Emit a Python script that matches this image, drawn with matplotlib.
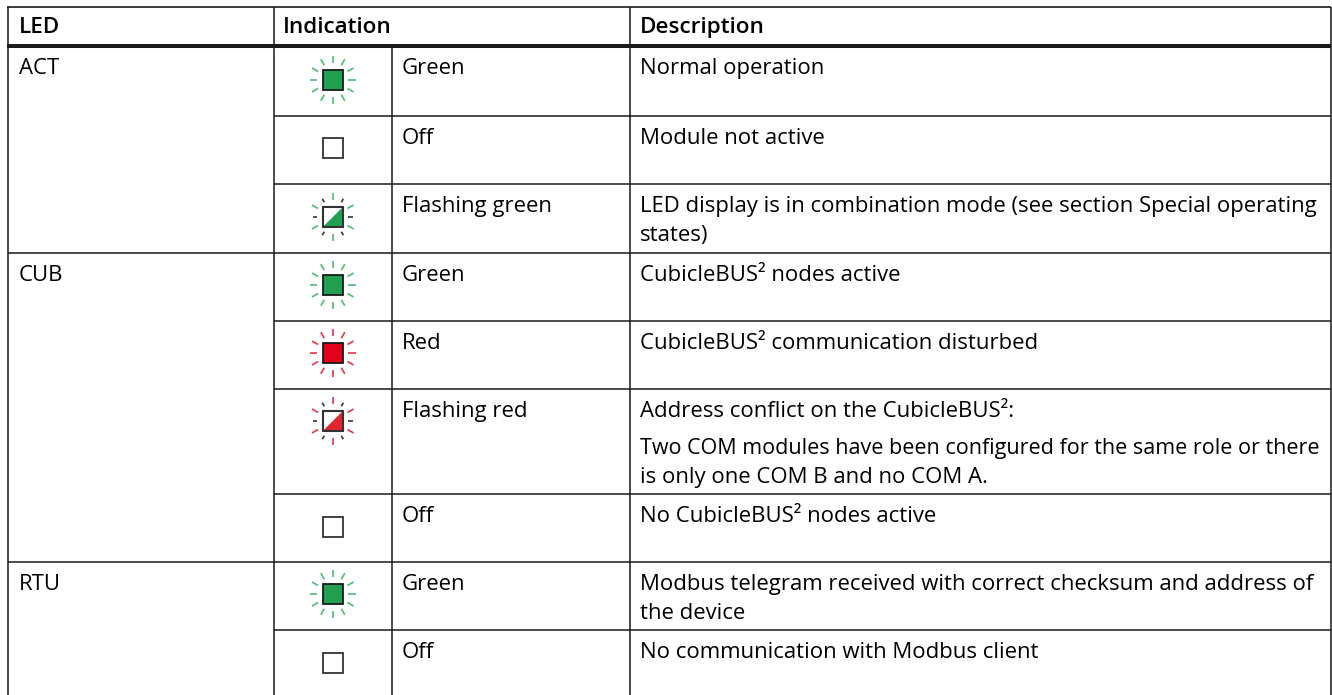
import matplotlib
matplotlib.use("Agg")
from matplotlib import pyplot as plt
from matplotlib.patches import Polygon, Rectangle
import numpy as np

W, H = 1332, 695

# table content
led_names = ["ACT", "CUB", "RTU"]
led_rows = [0, 3, 7]
headers = ["LED", "Indication", "Description"]
indications = ["Green", "Off", "Flashing green", "Green", "Red", "Flashing red",
               "Off", "Green", "Off"]
icon_kinds = ["green", "off", "flash_green", "green", "red", "flash_red",
              "off", "green", "off"]
descriptions = [
    ["Normal operation"],
    ["Module not active"],
    ["LED display is in combination mode (see section Special operating", "states)"],
    ["CubicleBUS² nodes active"],
    ["CubicleBUS² communication disturbed"],
    ["Address conflict on the CubicleBUS²:", None,
     "Two COM modules have been configured for the same role or there",
     "is only one COM B and no COM A."],
    ["No CubicleBUS² nodes active"],
    ["Modbus telegram received with correct checksum and address of", "the device"],
    ["No communication with Modbus client"],
]
# this line is set tighter in the original
tight_line = "Two COM modules have been configured for the same role or there"

# grid positions in pixels
row_y = [46, 116, 184, 253, 321, 389, 494, 562, 630]
icon_y = [80, 148, 217, 285, 353, 421, 527, 594, 663]
col_led, col_icon, col_name, col_desc, col_right = 8, 273.5, 392, 629.5, 1331
top_y = 6.5

GREEN = "#22a052"
RED = "#e2001a"
RED_FLASH = "#e0252f"
RAY_GREEN = "#4fbb78"
RAY_RED = "#e8334a"
DARK = "#333333"

plt.rcParams["font.family"] = ["Open Sans", "DejaVu Sans"]
FS = 15.9
FS_HEAD = 16.2
FS_TIGHT = 15.5

fig = plt.figure(figsize=(W / 100, H / 100), dpi=100)
ax = fig.add_axes([0, 0, 1, 1])
ax.set_xlim(0, W)
ax.set_ylim(H, 0)
ax.axis("off")


def hline(y, x0, x1=col_right, lw=1.1):
    ax.plot([x0, x1], [y, y], color="#1a1a1a", lw=lw, solid_capstyle="butt")


def vline(x, y0, y1=H, lw=1.1):
    ax.plot([x, x], [y0, y1], color="#1a1a1a", lw=lw, solid_capstyle="butt")


def draw_rays(cx, cy, color, flashing=False):
    # twelve short strokes around the lamp, part of them dark when flashing
    for ang in range(0, 360, 30):
        a = np.deg2rad(ang)
        c = color
        if ang % 180 == 0:
            r0, r1 = 15.5, 23
            if flashing:
                c, r0, r1 = DARK, 15.5, 20
        elif ang % 180 in (60, 120):
            r0, r1 = 17, 24
            if flashing:
                c, r0, r1 = DARK, 17, 21
        else:
            r0, r1 = 17, 24
        ax.plot([cx + r0 * np.cos(a), cx + r1 * np.cos(a)],
                [cy + r0 * np.sin(a), cy + r1 * np.sin(a)],
                color=c, lw=1.2, solid_capstyle="butt")


def draw_icon(kind, cx, cy):
    s = 10
    if kind == "off":
        ax.add_patch(Rectangle((cx - s, cy - s), 2 * s, 2 * s, fc="white", ec=DARK, lw=1.3))
        return
    if kind in ("green", "red"):
        fill = GREEN if kind == "green" else RED
        draw_rays(cx, cy, RAY_GREEN if kind == "green" else RAY_RED)
        ax.add_patch(Rectangle((cx - s, cy - s), 2 * s, 2 * s, fc=fill, ec="#1a1a1a", lw=1.3))
        return
    fill = GREEN if kind == "flash_green" else RED_FLASH
    ray = RAY_GREEN if kind == "flash_green" else RAY_RED
    draw_rays(cx, cy, ray, flashing=True)
    ax.add_patch(Rectangle((cx - s, cy - s), 2 * s, 2 * s, fc="white", ec="none"))
    ax.add_patch(Polygon([(cx - s, cy + s), (cx + s, cy - s), (cx + s, cy + s)],
                         closed=True, fc=fill, ec="none"))
    ax.add_patch(Rectangle((cx - s, cy - s), 2 * s, 2 * s, fc="none", ec=DARK, lw=1.5))


# frame and rules
hline(top_y, col_led - 0.7, lw=1.2)
hline(row_y[0], col_led - 0.7, lw=2.9)
vline(col_led, top_y)
vline(col_icon, top_y)
vline(col_desc, top_y)
vline(col_right, top_y)
vline(col_name, row_y[0])
for i, y in enumerate(row_y[1:], start=1):
    hline(y, col_led if i in led_rows else col_icon)

# header
for x, label in zip([19, 283, 640], headers):
    ax.text(x, 33, label, fontsize=FS_HEAD, fontweight="semibold", va="baseline", color="black")

# body
for name, r in zip(led_names, led_rows):
    ax.text(19, row_y[r] + 28, name, fontsize=FS, va="baseline", color="black")

for r, (label, kind, desc) in enumerate(zip(indications, icon_kinds, descriptions)):
    y = row_y[r]
    ax.text(402, y + 28, label, fontsize=FS, va="baseline", color="black")
    draw_icon(kind, 332.8, icon_y[r])
    yy = y + 28
    for line in desc:
        if line is None:
            yy += 8
            continue
        ax.text(640, yy, line, fontsize=FS_TIGHT if line == tight_line else FS,
                va="baseline", color="black")
        yy += 29

fig.savefig("out.png", dpi=100)
